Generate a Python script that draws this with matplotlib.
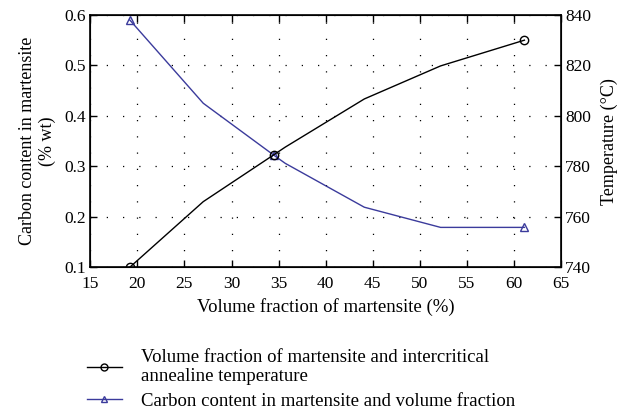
import numpy as np
import matplotlib
matplotlib.use("Agg")
import matplotlib.pyplot as plt

plt.rcParams["font.family"] = ["Liberation Serif", "DejaVu Serif"]
plt.rcParams["mathtext.fontset"] = "stix"

# Volume fraction of martensite (%) at each curve vertex
vol_frac = [19.2, 27.0, 34.5, 35.7, 44.1, 52.2, 61.1]
# Intercritical annealing temperature (C)
temperature = [740, 766, 784.6, 787.6, 806.7, 819.8, 830]
# Carbon content in martensite (% wt)
carbon = [0.59, 0.425, 0.322, 0.306, 0.219, 0.179, 0.179]
# vertices that carry a marker
marked = [0, 2, 6]

blue = "#3b3b9c"

fig = plt.figure(figsize=(6.18, 4.15), dpi=100)
ax = fig.add_axes([0.146, 0.356, 0.762, 0.608])
ax2 = ax.twinx()

ax.plot(vol_frac, carbon, color=blue, lw=1.0, marker="^", markevery=marked,
        ms=6, mfc="none", mec=blue, mew=1.0)
ax2.plot(vol_frac, temperature, color="black", lw=1.0, marker="o", markevery=marked,
         ms=6, mfc="none", mec="black", mew=1.0)

ax.set_xlim(15, 65)
ax.set_ylim(0.1, 0.6)
ax2.set_ylim(740, 840)
ax.set_xticks(np.arange(15, 66, 5))
ax.set_yticks([0.1, 0.2, 0.3, 0.4, 0.5, 0.6])
ax2.set_yticks(np.arange(740, 841, 20))

ax.grid(True, color="black", linestyle=(0, (1, 12)), lw=0.9)
ax.tick_params(direction="in", top=True, length=5, width=1.0, labelsize=12.5, pad=3)
ax.tick_params(axis="x", pad=6)
ax2.tick_params(direction="in", length=5, width=1.0, labelsize=12.5, pad=3)
for sp in ax.spines.values():
    sp.set_linewidth(1.2)

ax.set_xlabel("Volume fraction of martensite (%)", fontsize=13.5, labelpad=5)
ax.set_ylabel("Carbon content in martensite\n(% wt)", fontsize=13, labelpad=6)
ax2.set_ylabel("Temperature (°C)", fontsize=13, labelpad=7)

h1 = plt.Line2D([], [], color="black", lw=1.0, marker="o", ms=5, mfc="none")
h2 = plt.Line2D([], [], color=blue, lw=1.0, marker="^", ms=5, mfc="none", mec=blue)
fig.legend([h1, h2],
           ["Volume fraction of martensite and intercritical\nannealine temperature",
            "Carbon content in martensite and volume fraction"],
           loc="upper left", bbox_to_anchor=(0.128, 0.178), frameon=False,
           fontsize=13.5, handlelength=1.9, handletextpad=1.0, labelspacing=0.4,
           borderaxespad=0)

fig.savefig("out.png", dpi=100)
